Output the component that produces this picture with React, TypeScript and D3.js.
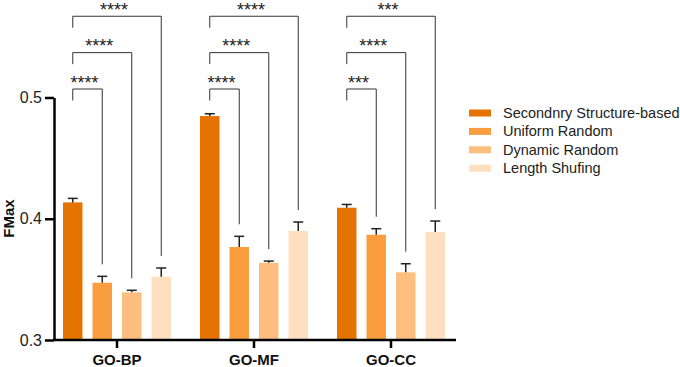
import React, { useEffect, useRef } from 'react'
import * as d3 from 'd3'

// values
const groups = ['GO-BP', 'GO-MF', 'GO-CC']
const methods = ['Secondnry Structure-based', 'Uniform Random', 'Dynamic Random', 'Length Shufing']
const colors = ['#e57300', '#f99d3e', '#fdbe80', '#fedfc0']

const meanBP = [0.4135, 0.3472, 0.3393, 0.3522]
const meanMF = [0.4847, 0.3767, 0.3637, 0.3899]
const meanCC = [0.4091, 0.3868, 0.3558, 0.389]
const semBP = [0.0033, 0.0053, 0.0017, 0.0072]
const semMF = [0.0019, 0.0088, 0.0014, 0.0074]
const semCC = [0.0027, 0.005, 0.0071, 0.0091]

const starsBP = ['****', '****', '****']
const starsMF = ['****', '****', '****']
const starsCC = ['***', '****', '***']

const bracketLevels = [0.507, 0.537, 0.567]
const yTicks = [0.3, 0.4, 0.5]

const means = [meanBP, meanMF, meanCC]
const sems = [semBP, semMF, semCC]
const stars = [starsBP, starsMF, starsCC]

const FONT = '"Liberation Sans", Arial, Helvetica, sans-serif'

export default function App() {
  const ref = useRef<SVGSVGElement>(null)

  useEffect(() => {
    const svg = d3.select(ref.current)
    svg.selectAll('*').remove()

    const left = 54, right = 456, bottom = 340

    const y = d3.scaleLinear().domain([0.3, 0.5]).range([bottom, 97.5])
    const x = d3.scaleBand().domain(groups).range([48.5, 459.5]).paddingInner(0)
    const xi = d3.scaleBand().domain(methods).range([-59, 59]).paddingInner(0.34).paddingOuter(0.17)

    const g = svg.append('g')

    // bars + error bars
    groups.forEach((grp, gi) => {
      const cx = x(grp)! + x.bandwidth() / 2
      methods.forEach((m, mi) => {
        const bx = cx + xi(m)!
        const v = means[gi][mi]
        const top = y(v + sems[gi][mi])
        const mid = bx + xi.bandwidth() / 2
        g.append('rect')
          .attr('x', bx).attr('y', y(v))
          .attr('width', xi.bandwidth()).attr('height', bottom - y(v))
          .attr('fill', colors[mi])
        g.append('line')
          .attr('x1', mid).attr('x2', mid)
          .attr('y1', y(v)).attr('y2', top)
          .attr('stroke', '#222').attr('stroke-width', 1.5)
        g.append('line')
          .attr('x1', mid - 5).attr('x2', mid + 5)
          .attr('y1', top).attr('y2', top)
          .attr('stroke', '#222').attr('stroke-width', 1.5)
      })

      // significance brackets
      const x0 = cx + xi(methods[0])! + xi.bandwidth() / 2
      stars[gi].forEach((s, k) => {
        const mi = k + 1
        const x1 = cx + xi(methods[mi])! + xi.bandwidth() / 2
        const yl = y(bracketLevels[k])
        const yEnd = y(means[gi][mi] + sems[gi][mi]) - 12
        g.append('path')
          .attr('d', `M${x0},${yl + 11.5}V${yl}H${x1}V${yEnd}`)
          .attr('fill', 'none')
          .attr('stroke', '#333').attr('stroke-width', 1)
        g.append('text')
          .attr('x', (x0 + x1) / 2 - 3)
          .attr('y', yl - 0.5)
          .attr('text-anchor', 'middle')
          .style('font-family', FONT).style('font-size', '18px')
          .attr('fill', '#222')
          .text(s)
      })
    })

    // y axis
    const ya = svg.append('g')
      .attr('transform', `translate(${left},0)`)
      .call(d3.axisLeft(y).tickValues(yTicks).tickFormat(d3.format('.1f')).tickSize(9).tickSizeOuter(0).tickPadding(3))
    ya.select('.domain').attr('stroke', '#000').attr('stroke-width', 2.5)
    ya.selectAll('.tick line').attr('stroke', '#000').attr('stroke-width', 2.5)
    ya.selectAll('.tick text')
      .style('font-family', FONT).style('font-size', '16px').attr('fill', '#222')

    // x axis
    svg.append('line')
      .attr('x1', left - 1.25).attr('x2', right)
      .attr('y1', bottom).attr('y2', bottom)
      .attr('stroke', '#000').attr('stroke-width', 2.5)
    const xa = svg.append('g')
      .attr('transform', `translate(0,${bottom})`)
      .call(d3.axisBottom(x).tickSize(8).tickSizeOuter(0).tickPadding(6))
    xa.select('.domain').remove()
    xa.selectAll('.tick line').attr('stroke', '#000').attr('stroke-width', 2.5)
    xa.selectAll('.tick text')
      .style('font-family', FONT).style('font-size', '15px').style('font-weight', 'bold').attr('fill', '#111')

    svg.append('text')
      .attr('transform', 'translate(14,218.5) rotate(-90)')
      .attr('text-anchor', 'middle')
      .style('font-family', FONT).style('font-size', '15px').style('font-weight', 'bold')
      .attr('fill', '#111')
      .text('FMax')

    // legend
    const lg = svg.append('g').attr('transform', 'translate(469,113)')
    methods.forEach((m, i) => {
      lg.append('rect')
        .attr('x', 0).attr('y', i * 18.4 - 3.5)
        .attr('width', 22).attr('height', 7)
        .attr('fill', colors[i])
      lg.append('text')
        .attr('x', 34).attr('y', i * 18.4)
        .attr('dy', '0.35em')
        .style('font-family', FONT).style('font-size', '14.5px')
        .attr('fill', '#222')
        .text(m)
    })
  }, [])

  return (
    <div style={{ position: 'absolute', left: 0, top: 0 }}>
      <svg ref={ref} width={680} height={367} style={{ display: 'block', background: '#fff' }} />
    </div>
  )
}
